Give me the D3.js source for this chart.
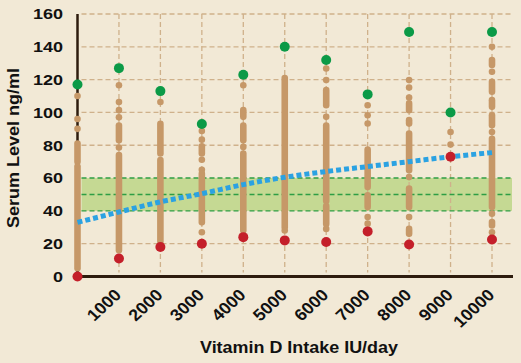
<!DOCTYPE html>
<html>
<head>
<meta charset="utf-8">
<script src="https://cdn.jsdelivr.net/npm/d3@7"></script>
<style>
  body { margin: 0; background: #f2e9d6; }
  svg { display: block; }
  text { font-family: "Liberation Sans", Arial, sans-serif; font-weight: bold; fill: #111; }
</style>
</head>
<body>
<div id="chart"></div>
<script>
// intake levels (IU/day) and serum levels (ng/ml)
const intakes = [0, 1000, 2000, 3000, 4000, 5000, 6000, 7000, 8000, 9000, 10000];
const tickLabels = ["1000", "2000", "3000", "4000", "5000", "6000", "7000", "8000", "9000", "10000"];
const yTicks = [0, 20, 40, 60, 80, 100, 120, 140, 160];

const maxLevels = [117, 127, 113, 93, 123, 140, 132, 111, 149, 100, 149];
const minLevels = [0, 11, 18, 20, 24, 22, 21, 27.5, 19.5, 73, 22.5];
const trendLevels = [33, 39.3, 45.5, 50.5, 56, 60.5, 64, 67, 70, 73, 75.5];

// runs of overlapping sample dots per intake level, [low, high]
const sampleRuns = [
  [[110, 110], [96, 96], [90, 90], [70, 81], [5, 67]],
  [[116.6, 116.6], [106.4, 106.4], [101.4, 101.4], [97, 97], [83, 92], [78.6, 78.6], [16, 74]],
  [[106.4, 106.4], [75, 93], [21, 71]],
  [[88.7, 88.7], [83.4, 83.4], [75, 79.4], [71.2, 71.2], [65.1, 65.1], [33, 62.7], [27, 27]],
  [[116.6, 116.6], [97.3, 101.4], [83, 92], [79, 79], [28, 75]],
  [[30, 121], [28, 28]],
  [[126.8, 126.8], [119.7, 119.7], [104.4, 113.6], [97.3, 97.3], [46, 92], [32, 43], [29, 29]],
  [[104.4, 104.4], [98.3, 98.3], [93.3, 93.3], [54.5, 77.4], [42.3, 49.5], [36.2, 36.2], [32.2, 32.2]],
  [[119.7, 119.7], [115.2, 115.2], [109.1, 109.1], [101.4, 105.5], [93.2, 95.3], [64.7, 87.1], [60.6, 60.6], [42.3, 53.6], [36.2, 36.2], [26, 29]],
  [[88.1, 88.1], [80.4, 80.4]],
  [[140, 140], [128.9, 131.9], [124.8, 124.8], [112.6, 118.7], [103.4, 107.5], [92.2, 98.3], [88.1, 88.1], [42.3, 84], [38.3, 38.3], [31.1, 33.2], [27, 27]]
];

// recommended band
const bandLow = 40, bandMid = 50, bandHigh = 60;

const width = 521, height = 363;
const margin = {left: 77.5, right: 512, top: 14, bottom: 276.5};

const svg = d3.select("#chart").append("svg")
  .attr("width", width)
  .attr("height", height);

svg.append("rect").attr("width", width).attr("height", height).attr("fill", "#f2e9d6");

const x = d3.scaleLinear().domain([0, 10000]).range([margin.left, 492]);
const y = d3.scaleLinear().domain([0, 160]).range([margin.bottom, margin.top]);

// green band
svg.append("rect")
  .attr("x", margin.left + 4)
  .attr("y", y(bandHigh))
  .attr("width", margin.right - margin.left - 4)
  .attr("height", y(bandLow) - y(bandHigh))
  .attr("fill", "#c5d993");

// horizontal grid
svg.append("g")
  .selectAll("line")
  .data(yTicks.filter(d => d > 0 && d != bandLow && d != bandHigh))
  .join("line")
  .attr("x1", margin.left + 4).attr("x2", margin.right)
  .attr("y1", d => y(d)).attr("y2", d => y(d))
  .attr("stroke", "#cfb18b")
  .attr("stroke-width", 1.3)
  .attr("stroke-dasharray", "5,3");

// vertical grid
svg.append("g")
  .selectAll("line")
  .data(intakes.slice(1))
  .join("line")
  .attr("x1", d => x(d)).attr("x2", d => x(d))
  .attr("y1", y(160)).attr("y2", margin.bottom - 4)
  .attr("stroke", "#cfb18b")
  .attr("stroke-width", 1.3)
  .attr("stroke-dasharray", "5,3");

// band lines
svg.append("g")
  .selectAll("line")
  .data([bandLow, bandMid, bandHigh])
  .join("line")
  .attr("x1", margin.left + 4).attr("x2", margin.right)
  .attr("y1", d => y(d)).attr("y2", d => y(d))
  .attr("stroke", "#2e9e44")
  .attr("stroke-width", 1.4)
  .attr("stroke-dasharray", "5,3");

// axes lines
svg.append("line")
  .attr("x1", margin.left).attr("x2", margin.left)
  .attr("y1", margin.top).attr("y2", margin.bottom)
  .attr("stroke", "#2e1c0e").attr("stroke-width", 2.5);

svg.append("line")
  .attr("x1", margin.left).attr("x2", margin.right + 1)
  .attr("y1", margin.bottom).attr("y2", margin.bottom)
  .attr("stroke", "#2e1c0e").attr("stroke-width", 3);

// sample dots
const cols = svg.append("g")
  .selectAll("g")
  .data(intakes)
  .join("g");

cols.selectAll("line")
  .data((d, i) => sampleRuns[i].map(r => ({ x: d, lo: r[0], hi: r[1] })))
  .join("line")
  .attr("x1", d => x(d.x)).attr("x2", d => x(d.x))
  .attr("y1", d => y(d.lo)).attr("y2", d => y(d.hi))
  .attr("stroke", "#c69868")
  .attr("stroke-width", 6.6)
  .attr("stroke-linecap", "round");

// trend
svg.append("path")
  .datum(intakes.map((d, i) => [d, trendLevels[i]]))
  .attr("d", d3.line().x(d => x(d[0])).y(d => y(d[1])).curve(d3.curveMonotoneX))
  .attr("fill", "none")
  .attr("stroke", "#2ba2e2")
  .attr("stroke-width", 5)
  .attr("stroke-dasharray", "5,3");

// max and min
svg.append("g")
  .selectAll("circle")
  .data(intakes)
  .join("circle")
  .attr("cx", d => x(d))
  .attr("cy", (d, i) => y(maxLevels[i]))
  .attr("r", 5)
  .attr("fill", "#0b9a47");

svg.append("g")
  .selectAll("circle")
  .data(intakes)
  .join("circle")
  .attr("cx", d => x(d))
  .attr("cy", (d, i) => y(minLevels[i]))
  .attr("r", 5)
  .attr("fill", "#c41f2a");

// y tick labels (the reference type is a little wide)
svg.append("g")
  .selectAll("text")
  .data(yTicks)
  .join("text")
  .attr("transform", d => "translate(63," + y(d) + ") scale(1.2,1)")
  .attr("dy", "0.36em")
  .attr("text-anchor", "end")
  .style("font-size", "15px")
  .text(d => d);

// x tick labels
svg.append("g")
  .selectAll("text")
  .data(tickLabels)
  .join("text")
  .attr("transform", (d, i) => "translate(" + (x(intakes[i + 1]) - 1) + ",292) scale(1.08,1) rotate(-45)")
  .attr("text-anchor", "end")
  .attr("dy", "0.35em")
  .style("font-size", "16.5px")
  .text(d => d);

// titles
svg.append("text")
  .attr("x", 299)
  .attr("y", 353)
  .attr("text-anchor", "middle")
  .attr("textLength", 198)
  .attr("lengthAdjust", "spacingAndGlyphs")
  .style("font-size", "17px")
  .text("Vitamin D Intake IU/day");

svg.append("text")
  .attr("transform", "translate(18.5,148) rotate(-90)")
  .attr("text-anchor", "middle")
  .attr("textLength", 160)
  .attr("lengthAdjust", "spacingAndGlyphs")
  .style("font-size", "16px")
  .text("Serum Level ng/ml");
</script>
</body>
</html>
